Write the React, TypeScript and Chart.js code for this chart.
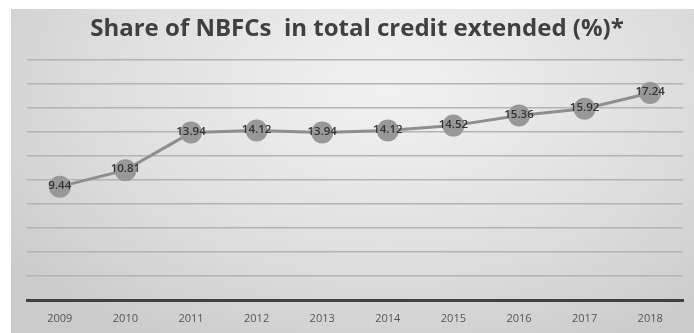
import React, { useEffect, useRef } from "react";
import { Chart, registerables } from "chart.js";

Chart.register(...registerables);

const years = ["2009", "2010", "2011", "2012", "2013", "2014", "2015", "2016", "2017", "2018"];
const nbfcShare = [9.44, 10.81, 13.94, 14.12, 13.94, 14.12, 14.52, 15.36, 15.92, 17.24];
const yMin = 0;
const yMax = 20;
const yStep = 2;
const titleText = "Share of NBFCs  in total credit extended (%)*";

const valueLabels = {
  id: "valueLabels",
  afterDatasetsDraw(chart: any) {
    const ctx = chart.ctx;
    const meta = chart.getDatasetMeta(0);
    ctx.save();
    ctx.font = "600 11.5px 'Open Sans', 'DejaVu Sans', sans-serif";
    ctx.fillStyle = "#333333";
    ctx.textAlign = "center";
    ctx.textBaseline = "middle";
    meta.data.forEach((pt: any, i: number) => {
      ctx.fillText(nbfcShare[i].toFixed(2), pt.x, pt.y - 1);
    });
    ctx.restore();
  },
};

export default function App() {
  const ref = useRef<HTMLCanvasElement | null>(null);
  useEffect(() => {
    if (!ref.current) return;
    const chart = new Chart(ref.current, {
      type: "line",
      data: {
        labels: years,
        datasets: [
          {
            data: nbfcShare,
            borderColor: "#8e8e8e",
            borderWidth: 3,
            pointRadius: 11,
            pointHoverRadius: 11,
            pointBackgroundColor: "#989898",
            pointBorderWidth: 0,
            tension: 0,
          },
        ],
      },
      options: {
        animation: false,
        responsive: false,
        maintainAspectRatio: false,
        layout: { padding: { left: 16, right: 7, top: 0, bottom: 0 } },
        plugins: {
          legend: { display: false },
          tooltip: { enabled: false },
          title: {
            display: true,
            text: titleText,
            color: "#404040",
            font: { family: "'Open Sans', 'DejaVu Sans', sans-serif", size: 24, weight: "bold" },
            padding: { top: 6, bottom: 16 },
          },
        },
        scales: {
          x: {
            offset: true,
            grid: { display: false, drawTicks: false },
            border: { display: true, color: "#404040", width: 3 },
            ticks: {
              color: "#555555",
              font: { family: "'Open Sans', 'DejaVu Sans', sans-serif", size: 11 },
              padding: 12,
            },
            afterFit: (s: any) => {
              s.height = 33;
            },
          },
          y: {
            min: yMin,
            max: yMax,
            ticks: { display: false, stepSize: yStep },
            grid: {
              drawTicks: false,
              color: "#b4b4b4",
              lineWidth: 1.5,
            },
            border: { display: false },
            afterFit: (s: any) => {
              s.width = 0;
            },
          },
        },
      },
      plugins: [valueLabels],
    });
    return () => chart.destroy();
  }, []);

  return (
    <div style={{ position: "fixed", left: 0, top: 0, width: 694, height: 333, background: "#ffffff" }}>
      <div
        style={{
          position: "absolute",
          left: 11,
          top: 9,
          width: 683,
          height: 324,
          background:
            "radial-gradient(ellipse 70% 90% at 55% 25%, #f2f2f2 0%, #e0e0e0 55%, #cbcbcb 100%)",
        }}
      >
        <canvas ref={ref} width={683} height={324} style={{ display: "block" }} />
      </div>
    </div>
  );
}
